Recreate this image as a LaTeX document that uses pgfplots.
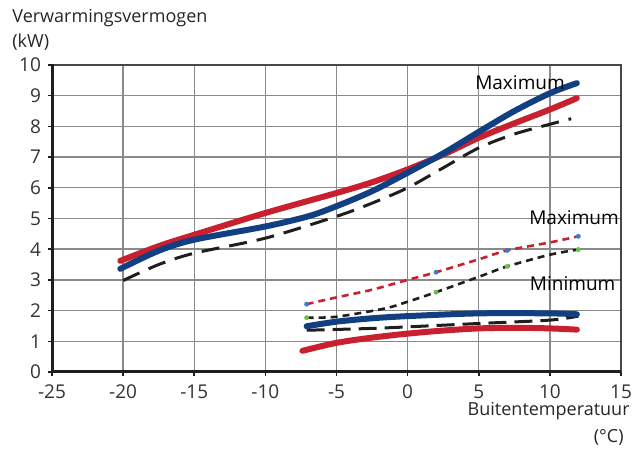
\documentclass[border=0pt]{standalone}
\usepackage{pgfplots}
\pgfplotsset{compat=1.18}
\usepackage{fontspec}
\setmainfont{Open Sans}
\definecolor{cred}{HTML}{C8202F}
\definecolor{cblue}{HTML}{123F82}
\definecolor{cblk}{HTML}{1E1E1E}
\definecolor{gridg}{HTML}{8A8A8A}
\definecolor{dotblue}{HTML}{3C7AD0}
\definecolor{dotgreen}{HTML}{6CBF48}
\begin{document}
\begin{tikzpicture}
\begin{axis}[
  name=ax,
  at={(0,0)}, anchor=south west,
  scale only axis, width=284.5pt, height=153.5pt,
  xmin=-25, xmax=15, ymin=0, ymax=10,
  xtick={-25,-20,...,15}, ytick={0,1,...,10},
  xtick pos=bottom, ytick pos=left,
  grid=major, major grid style={gridg, line width=0.7pt},
  axis line style={draw=none},
  tick align=outside, major tick length=2pt,
  tick style={cblk, line width=0.8pt},
  ticklabel style={font=\fontsize{9.5}{11}\selectfont, text=black!80},
  /pgf/number format/assume math mode=true,
  xticklabel style={yshift=-1pt},
  clip=false,
]
% upper group
\addplot[cblk, line width=1.5pt, dash pattern=on 9pt off 5pt, smooth] coordinates {
(-20,2.98) (-17.5,3.5) (-15,3.87) (-10,4.36) (-5,5.07) (-2.5,5.5) (0,6.0) (2.5,6.65) (5,7.3) (7.5,7.75) (10,8.07) (11.5,8.25)};
\addplot[cred, line width=3pt, line cap=round, smooth] coordinates {
(-20.2,3.62) (-17.5,4.1) (-15,4.47) (-10,5.18) (-5,5.83) (-2.5,6.18) (0,6.6) (2.5,7.08) (5,7.63) (7.5,8.1) (10,8.55) (11.9,8.92)};
\addplot[cblue, line width=3pt, line cap=round, smooth] coordinates {
(-20.2,3.36) (-17.5,3.95) (-15,4.31) (-10,4.74) (-7,5.07) (-5,5.4) (-2.5,5.89) (0,6.49) (2.5,7.12) (5,7.82) (7.5,8.5) (10,9.08) (11.9,9.41)};

% lower group
\addplot[cblk, line width=1.5pt, dash pattern=on 9pt off 4pt, smooth] coordinates {
(-7.1,1.36) (-2.5,1.42) (0,1.47) (5,1.58) (10,1.69) (12,1.82)};
\addplot[cred, line width=3pt, line cap=round, smooth] coordinates {
(-7.4,0.69) (-5,0.95) (-2.5,1.12) (0,1.25) (2.5,1.35) (5,1.42) (7.5,1.44) (10,1.42) (11.9,1.38)};
\addplot[cblue, line width=3pt, line cap=round, smooth] coordinates {
(-7.1,1.49) (-5,1.64) (-2.5,1.75) (0,1.82) (5,1.91) (10,1.91) (11.9,1.88)};
\addplot[cred, line width=1.3pt, dash pattern=on 3.5pt off 2.5pt, smooth] coordinates {
(-7.1,2.21) (-5,2.43) (-2.5,2.68) (0,3.0) (2,3.25) (5,3.67) (7,3.96) (10,4.22) (12,4.42)};
\addplot[cblk, line width=1.3pt, dash pattern=on 3.5pt off 2.5pt, smooth] coordinates {
(-7.1,1.77) (-5,1.8) (-1.6,2.07) (0,2.29) (2,2.6) (5,3.1) (7,3.44) (10,3.82) (12,3.99)};
\addplot[only marks, mark=*, mark size=1pt, dotblue] coordinates {(-7.1,2.21) (2,3.25) (7,3.96) (12,4.42)};
\addplot[only marks, mark=*, mark size=1pt, dotgreen] coordinates {(-7.1,1.77) (2,2.6) (7,3.44) (12,3.99)};

\node[font=\fontsize{9.5}{11}\selectfont] at (axis cs:7.9,9.43) {Maximum};
\node[font=\fontsize{9.5}{11}\selectfont] at (axis cs:11.7,5.04) {Maximum};
\node[font=\fontsize{9.5}{11}\selectfont] at (axis cs:11.6,2.89) {Minimum};
\end{axis}
\draw[black!72, line width=1.4pt] (0pt,153.5pt) -- (284.5pt,153.5pt) -- (284.5pt,0pt);
\draw[cblk, line width=1.5pt] (0pt,154.2pt) -- (0pt,0pt) -- (284.5pt,0pt);
\node[anchor=west, inner sep=1pt, font=\fontsize{9}{11}\selectfont, text=black!85] at (-21pt,177pt) {Verwarmingsvermogen};
\node[anchor=west, inner sep=1pt, font=\fontsize{9}{11}\selectfont, text=black!85] at (-21pt,165pt) {(kW)};
\node[anchor=east, inner sep=1pt, font=\fontsize{9}{11}\selectfont, text=black!85] at (290pt,-19.5pt) {Buitentemperatuur};
\node[anchor=east, inner sep=1pt, font=\fontsize{9}{11}\selectfont, text=black!85] at (287pt,-32.5pt) {(°C)};
\path (-26pt,-38pt) rectangle (294pt,186pt);
\end{tikzpicture}
\end{document}
